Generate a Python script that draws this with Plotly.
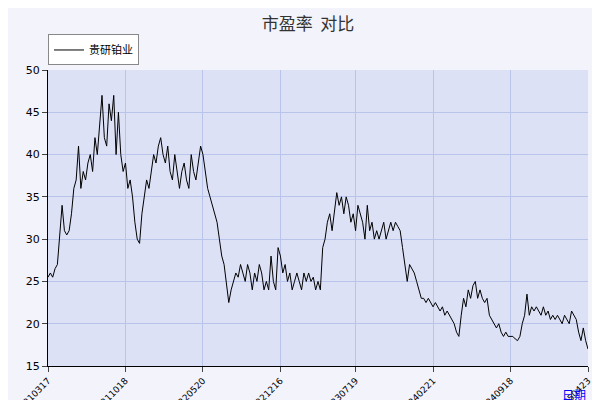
import plotly.graph_objects as go

# PE ratio trace (in order, even spacing)
pe_values = [
    25.5, 26, 25.5, 26.5, 27, 31, 34, 31, 30.5, 31,
    33, 36, 37, 41, 36, 38, 37, 39, 40, 38, 42, 40,
    44, 47, 42, 41, 46, 44, 47, 40, 45,
    40, 38, 39, 36, 37, 35, 32, 30, 29.5, 33, 35,
    37, 36, 38, 40, 39, 41, 42, 40, 39, 41, 38, 37, 40, 38, 36,
    38, 39, 37, 36, 40, 38, 37, 39, 41, 40, 38, 36, 35, 34, 33,
    32, 30, 28, 27, 25, 22.5, 24, 25, 26, 25.5,
    27, 26, 25, 27, 26, 24, 26, 25, 27, 26,
    24, 25, 24, 28, 25, 24, 29, 28, 26, 27, 25, 26, 24,
    25, 26, 25, 24, 26, 25, 26, 25, 25.5, 24, 25,
    24, 29, 30, 32, 33, 31, 33, 35.5, 34, 35, 33, 35, 34, 32, 33,
    31, 34, 33, 32, 30, 34, 31, 32, 30, 31, 30, 31, 32, 30, 31, 32, 31, 32,
    31.5, 31, 29, 27, 25, 27, 26.5, 26, 25, 24, 23, 23, 22.5, 23,
    22.5, 22, 22.5, 22, 21.5, 22, 21, 21.5, 21, 20.5, 20, 19, 18.5, 21,
    23, 22, 24, 23, 24.5, 25, 23, 24, 23, 22.5, 23, 21, 20.5,
    20, 19.5, 20, 19, 18.5, 19, 18.5, 18.5, 18.5, 18.2, 18, 18.5, 20, 21,
    23.5, 21, 22, 21.5, 22, 21.5, 21, 22, 21, 21.5, 20.5, 21, 20.5, 21,
    20.5, 20, 21, 20.5, 20, 21.5, 21, 20.5, 19, 18, 19.5, 18, 17,
]
tick_labels = ['20210317', '20211018', '20220520', '20221216',
               '20230719', '20240221', '20240918', '20250423']

n = len(pe_values)
x = list(range(n))
tick_pos = [round(i * (n - 1) / (len(tick_labels) - 1)) for i in range(len(tick_labels))]

fig = go.Figure(go.Scatter(x=x, y=pe_values, mode='lines', name='贵研铂业',
                           line=dict(color='black', width=1)))

fig.update_layout(
    width=600, height=400,
    margin=dict(l=40, r=20, t=62, b=42, autoexpand=False),
    paper_bgcolor='#f3f3fb', plot_bgcolor='#dce1f6',
    font=dict(family='Noto Sans CJK SC', size=11, color='black'),
    title=dict(text='市盈率  对比', x=0.5, y=0.975, xanchor='center',
               font=dict(size=17, color='#333333')),
    showlegend=True,
    legend=dict(x=0.0, y=1.12, xanchor='left', yanchor='top', bgcolor='white',
                bordercolor='#888888', borderwidth=1, font=dict(size=11)),
    xaxis=dict(range=[0, n - 1], tickmode='array', tickvals=tick_pos, ticktext=tick_labels,
               tickangle=-45, showgrid=True, gridcolor='#b8c4ea', ticks='outside',
               automargin=False, linecolor='black', showline=True,
               tickfont=dict(size=9, family='DejaVu Sans')),
    yaxis=dict(range=[15, 50], dtick=5, showgrid=True, gridcolor='#b8c4ea', ticks='outside',
               automargin=False, linecolor='black', showline=True,
               tickfont=dict(size=11, family='DejaVu Sans')),
    annotations=[dict(text='日期', xref='paper', yref='paper', x=1.0, y=-0.06,
                      xanchor='right', yanchor='top', showarrow=False,
                      font=dict(color='blue', size=12))],
)

fig.write_html("out.html")
